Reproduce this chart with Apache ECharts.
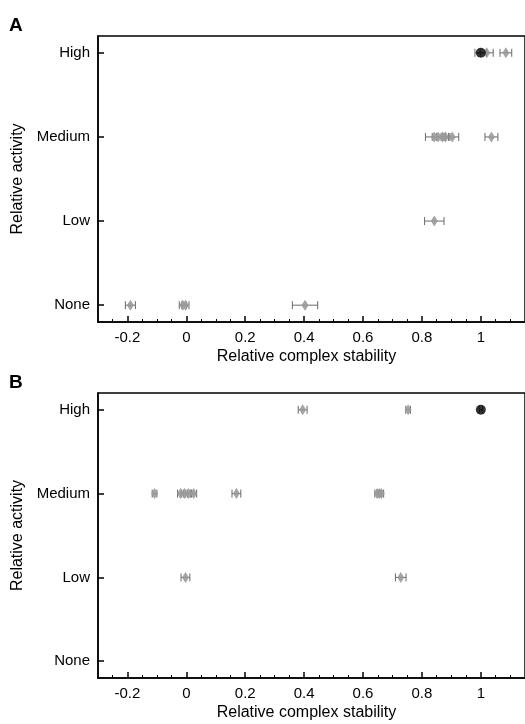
<!DOCTYPE html>
<html>
<head>
<meta charset="utf-8">
<script src="https://cdn.jsdelivr.net/npm/echarts@6/dist/echarts.min.js"></script>
<style>
  html, body { margin: 0; padding: 0; background: #fff; }
  #chart { width: 525px; height: 724px; }
</style>
</head>
<body>
<div id="chart"></div>
<script>
// 活性等级
const levels = ["None", "Low", "Medium", "High"];
const levelTicks = [0, 1, 2, 3];
const majorTicks = [-0.2, 0, 0.2, 0.4, 0.6, 0.8, 1];

// [stability, activity level, error]
const aGray = [
  [1.02, 3, 0.022], [1.085, 3, 0.02],
  [0.842, 2, 0.03], [0.855, 2, 0.02], [0.87, 2, 0.02], [0.88, 2, 0.015], [0.903, 2, 0.022], [1.036, 2, 0.022],
  [0.842, 1, 0.033],
  [-0.19, 0, 0.017], [-0.012, 0, 0.012], [-0.003, 0, 0.012], [0.403, 0, 0.043]
];
const aBlack = [[1.0, 3, 0.02]];

const bGray = [
  [0.395, 3, 0.015], [0.753, 3, 0.008],
  [-0.108, 2, 0.008], [-0.02, 2, 0.01], [-0.006, 2, 0.01], [0.008, 2, 0.01], [0.025, 2, 0.01],
  [0.17, 2, 0.015], [0.648, 2, 0.008], [0.655, 2, 0.008], [0.662, 2, 0.008],
  [-0.003, 1, 0.015], [0.728, 1, 0.018]
];
const bBlack = [[1.0, 3, 0.005]];

// 次刻度位置
const minorTicks = [];
for (let i = -5; i <= 23; i++) {
  const v = Math.round(i * 5) / 100;
  if (!majorTicks.includes(v)) minorTicks.push(v);
}

const FONT = "Liberation Sans, Arial, sans-serif";

function renderErr(params, api) {
  const x = api.value(0), y = api.value(1), e = api.value(2);
  const p1 = api.coord([x - e, y]);
  const p2 = api.coord([x + e, y]);
  const h = 4;
  const style = { stroke: "#6a6a6a", lineWidth: 1 };
  return {
    type: "group",
    children: [
      { type: "line", shape: { x1: p1[0], y1: p1[1], x2: p2[0], y2: p2[1] }, style: style },
      { type: "line", shape: { x1: p1[0], y1: p1[1] - h, x2: p1[0], y2: p1[1] + h }, style: style },
      { type: "line", shape: { x1: p2[0], y1: p2[1] - h, x2: p2[0], y2: p2[1] + h }, style: style }
    ]
  };
}

function xAxes(gi) {
  return [
    {
      gridIndex: gi, type: "value", position: "bottom", min: -0.3, max: 1.15,
      name: "Relative complex stability", nameLocation: "middle", nameGap: 27,
      nameTextStyle: { fontFamily: FONT, fontSize: 16, color: "#000", padding: [0, 10, 0, 0] },
      axisLine: { show: true, onZero: false, lineStyle: { color: "#000", width: 1.5 } },
      axisTick: { show: true, inside: true, length: 6, customValues: majorTicks, lineStyle: { color: "#000", width: 1.5 } },
      axisLabel: { customValues: majorTicks, margin: 8, fontFamily: FONT, fontSize: 15, color: "#000" },
      splitLine: { show: false }
    },
    {
      gridIndex: gi, type: "value", position: "bottom", min: -0.3, max: 1.15,
      axisLine: { show: false, onZero: false },
      axisTick: { show: true, inside: true, length: 3, customValues: minorTicks, lineStyle: { color: "#000", width: 1 } },
      axisLabel: { show: false },
      splitLine: { show: false }
    }
  ];
}

function yAxis(gi) {
  return {
    gridIndex: gi, type: "value", min: -0.2, max: 3.2,
    name: "Relative activity", nameLocation: "middle", nameGap: 62,
    nameTextStyle: { fontFamily: FONT, fontSize: 16, color: "#000" },
    axisLine: { show: true, onZero: false, lineStyle: { color: "#000", width: 1.5 } },
    axisTick: { show: true, inside: true, length: 6, customValues: levelTicks, lineStyle: { color: "#000", width: 1.5 } },
    axisLabel: {
      customValues: levelTicks, margin: 8, fontFamily: FONT, fontSize: 15, color: "#000",
      formatter: (v) => levels[Math.round(v)]
    },
    splitLine: { show: false }
  };
}

function panelSeries(gi, gray, black) {
  const xi = gi * 2;
  return [
    {
      type: "custom", xAxisIndex: xi, yAxisIndex: gi, renderItem: renderErr,
      encode: { x: 0, y: 1 }, data: gray.concat(black), z: 2, silent: true
    },
    {
      type: "scatter", xAxisIndex: xi, yAxisIndex: gi, symbol: "diamond", symbolSize: [7, 11],
      itemStyle: { color: "#9a9a9a", opacity: 0.9 }, data: gray.map((d) => [d[0], d[1]]), z: 3
    },
    {
      type: "scatter", xAxisIndex: xi, yAxisIndex: gi, symbol: "circle", symbolSize: 10,
      itemStyle: { color: "#000" }, data: black.map((d) => [d[0], d[1]]), z: 4
    }
  ];
}

const chart = echarts.init(document.getElementById("chart"), null, { renderer: "canvas" });

const option = {
  animation: false,
  backgroundColor: "#fff",
  grid: [
    { left: 98, top: 36, width: 435, height: 286, show: true, borderColor: "#000", borderWidth: 1.5 },
    { left: 98, top: 393, width: 435, height: 285, show: true, borderColor: "#000", borderWidth: 1.5 }
  ],
  graphic: [
    { type: "text", left: 9, top: 16, style: { text: "A", fontFamily: FONT, fontSize: 19, fontWeight: "bold", fill: "#000" } },
    { type: "text", left: 9, top: 373, style: { text: "B", fontFamily: FONT, fontSize: 19, fontWeight: "bold", fill: "#000" } }
  ],
  xAxis: xAxes(0).concat(xAxes(1)),
  yAxis: [yAxis(0), yAxis(1)],
  series: panelSeries(0, aGray, aBlack).concat(panelSeries(1, bGray, bBlack))
};

chart.setOption(option);
</script>
</body>
</html>
